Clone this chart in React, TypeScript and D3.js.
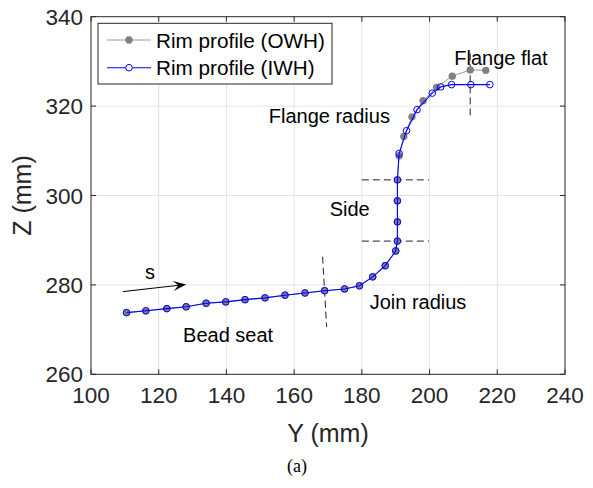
import { useEffect, useRef } from 'react';
import * as d3 from 'd3';

// Rim profile points, Y (mm) / Z (mm)
const owhY = [110.5, 116.2, 122.4, 128.1, 134.0, 139.8, 145.5, 151.4, 157.3, 163.2, 169.0, 174.9, 179.3, 183.2, 186.9, 190.0, 190.5, 190.5, 190.5, 190.5, 191.0, 192.4, 194.8, 198.1, 202.1, 206.7, 212.0, 216.6];
const owhZ = [273.8, 274.2, 274.7, 275.1, 275.9, 276.2, 276.7, 277.1, 277.7, 278.2, 278.7, 279.1, 279.8, 281.8, 284.3, 287.6, 289.8, 294.1, 298.8, 303.5, 308.9, 313.2, 317.6, 321.2, 324.2, 326.7, 328.1, 328.0];
const iwhY = [110.5, 116.2, 122.4, 128.1, 134.0, 139.8, 145.5, 151.4, 157.3, 163.2, 169.0, 174.9, 179.3, 183.2, 186.9, 190.0, 190.5, 190.5, 190.5, 190.5, 191.0, 193.2, 196.3, 200.8, 203.3, 206.5, 212.2, 217.8];
const iwhZ = [273.8, 274.2, 274.7, 275.1, 275.9, 276.2, 276.7, 277.1, 277.7, 278.2, 278.7, 279.1, 279.8, 281.8, 284.3, 287.6, 289.8, 294.1, 298.8, 303.5, 309.4, 314.5, 319.2, 322.9, 324.3, 324.8, 324.8, 324.8];

const xTicks = [100, 120, 140, 160, 180, 200, 220, 240];
const yTicks = [260, 280, 300, 320, 340];

const legendLabels = ['Rim profile (OWH)', 'Rim profile (IWH)'];

// section boundaries (dashed), as [Y1, Z1, Y2, Z2]
const dividers = [
  [168.4, 286.3, 169.6, 270.6],
  [180.0, 303.5, 199.8, 303.5],
  [180.0, 289.8, 199.8, 289.8],
  [212.0, 331.8, 212.0, 317.3],
];

const notes = [
  { text: 'Flange flat', y: 207.3, z: 329.2 },
  { text: 'Flange radius', y: 152.5, z: 316.3 },
  { text: 'Side', y: 170.5, z: 295.4 },
  { text: 'Join radius', y: 182.3, z: 274.6 },
  { text: 'Bead seat', y: 127.2, z: 267.2 },
];

const arrowFrom = [109.4, 278.5];
const arrowTo = [128.1, 280.1];

const App = () => {
  const svgRef = useRef<SVGSVGElement | null>(null);

  useEffect(() => {
    if (!svgRef.current) return;
    d3.select(svgRef.current).selectAll('*').remove();

    const width = 593;
    const height = 488;
    const left = 91, right = 565, top = 16.7, bottom = 374.3;
    const axisColor = '#262626';
    const font = 'Arial, "Liberation Sans", sans-serif';

    const svg = d3.select(svgRef.current)
      .attr('width', width)
      .attr('height', height);

    svg.append('rect').attr('width', width).attr('height', height).attr('fill', '#fff');

    const x = d3.scaleLinear().domain([100, 240]).range([left, right]);
    const y = d3.scaleLinear().domain([260, 340]).range([bottom, top]);

    // grid
    const grid = svg.append('g').attr('stroke', '#e3e3e3').attr('stroke-width', 1);
    xTicks.slice(1, -1).forEach((t) => {
      grid.append('line').attr('x1', x(t)).attr('x2', x(t)).attr('y1', top).attr('y2', bottom);
    });
    yTicks.slice(1, -1).forEach((t) => {
      grid.append('line').attr('x1', left).attr('x2', right).attr('y1', y(t)).attr('y2', y(t));
    });

    // dashed section lines
    dividers.forEach((d) => {
      svg.append('line')
        .attr('x1', x(d[0])).attr('y1', y(d[1]))
        .attr('x2', x(d[2])).attr('y2', y(d[3]))
        .attr('stroke', '#222')
        .attr('stroke-width', 1)
        .attr('stroke-dasharray', '7,4');
    });

    const owh = owhY.map((v, i) => [v, owhZ[i]] as [number, number]);
    const iwh = iwhY.map((v, i) => [v, iwhZ[i]] as [number, number]);
    const line = d3.line<[number, number]>().x((d) => x(d[0])).y((d) => y(d[1]));

    // OWH series
    svg.append('path')
      .attr('d', line(owh) as string)
      .attr('fill', 'none')
      .attr('stroke', '#9a9a9a')
      .attr('stroke-width', 1);
    svg.append('g').selectAll('circle').data(owh).enter().append('circle')
      .attr('cx', (d) => x(d[0]))
      .attr('cy', (d) => y(d[1]))
      .attr('r', 3.7)
      .attr('fill', '#808080');

    // IWH series
    svg.append('path')
      .attr('d', line(iwh) as string)
      .attr('fill', 'none')
      .attr('stroke', '#0000ff')
      .attr('stroke-width', 1.1);
    svg.append('g').selectAll('circle').data(iwh).enter().append('circle')
      .attr('cx', (d) => x(d[0]))
      .attr('cy', (d) => y(d[1]))
      .attr('r', 3.3)
      .attr('fill', 'none')
      .attr('stroke', '#0000ff')
      .attr('stroke-width', 1);

    // arrow "s"
    const ax1 = x(arrowFrom[0]), ay1 = y(arrowFrom[1]);
    const ax2 = x(arrowTo[0]), ay2 = y(arrowTo[1]);
    const ang = Math.atan2(ay2 - ay1, ax2 - ax1);
    svg.append('line')
      .attr('x1', ax1).attr('y1', ay1).attr('x2', ax2 - 4 * Math.cos(ang)).attr('y2', ay2 - 4 * Math.sin(ang))
      .attr('stroke', '#000').attr('stroke-width', 1);
    const hl = 13, hw = 5;
    const bx = ax2 - hl * Math.cos(ang), by = ay2 - hl * Math.sin(ang);
    const nx = -Math.sin(ang), ny = Math.cos(ang);
    const ix = ax2 - 0.6 * hl * Math.cos(ang), iy = ay2 - 0.6 * hl * Math.sin(ang);
    svg.append('path')
      .attr('d', `M${ax2},${ay2} L${bx + nx * hw},${by + ny * hw} L${ix},${iy} L${bx - nx * hw},${by - ny * hw} Z`)
      .attr('fill', '#000');
    svg.append('text')
      .attr('x', 145).attr('y', 279)
      .attr('font-family', font).attr('font-size', 20).attr('fill', '#000')
      .text('s');

    // annotations
    notes.forEach((n) => {
      svg.append('text')
        .attr('x', x(n.y)).attr('y', y(n.z))
        .attr('font-family', font).attr('font-size', 20).attr('fill', '#000')
        .text(n.text);
    });

    // axes box and ticks
    svg.append('rect')
      .attr('x', left).attr('y', top).attr('width', right - left).attr('height', bottom - top)
      .attr('fill', 'none').attr('stroke', axisColor).attr('stroke-width', 1);
    const tickLen = 5;
    xTicks.forEach((t) => {
      svg.append('line').attr('x1', x(t)).attr('x2', x(t)).attr('y1', bottom).attr('y2', bottom - tickLen).attr('stroke', axisColor);
      svg.append('line').attr('x1', x(t)).attr('x2', x(t)).attr('y1', top).attr('y2', top + tickLen).attr('stroke', axisColor);
      svg.append('text')
        .attr('x', x(t)).attr('y', bottom + 29)
        .attr('text-anchor', 'middle')
        .attr('font-family', font).attr('font-size', 22.5).attr('fill', axisColor)
        .text(t);
    });
    yTicks.forEach((t) => {
      svg.append('line').attr('x1', left).attr('x2', left + tickLen).attr('y1', y(t)).attr('y2', y(t)).attr('stroke', axisColor);
      svg.append('line').attr('x1', right).attr('x2', right - tickLen).attr('y1', y(t)).attr('y2', y(t)).attr('stroke', axisColor);
      svg.append('text')
        .attr('x', left - 8).attr('y', y(t) + 8)
        .attr('text-anchor', 'end')
        .attr('font-family', font).attr('font-size', 22.5).attr('fill', axisColor)
        .text(t);
    });

    // axis labels
    svg.append('text')
      .attr('x', (left + right) / 2).attr('y', 442)
      .attr('text-anchor', 'middle')
      .attr('font-family', font).attr('font-size', 25).attr('fill', axisColor)
      .text('Y (mm)');
    svg.append('text')
      .attr('transform', `translate(31,${(top + bottom) / 2}) rotate(-90)`)
      .attr('text-anchor', 'middle')
      .attr('font-family', font).attr('font-size', 25).attr('fill', axisColor)
      .text('Z (mm)');

    // legend
    const lg = svg.append('g');
    lg.append('rect')
      .attr('x', 98).attr('y', 23.3).attr('width', 234).attr('height', 60.7)
      .attr('fill', '#fff').attr('stroke', axisColor).attr('stroke-width', 1);
    const rows = [40, 67.7];
    lg.append('line').attr('x1', 107).attr('x2', 151).attr('y1', rows[0]).attr('y2', rows[0]).attr('stroke', '#9a9a9a').attr('stroke-width', 1);
    lg.append('circle').attr('cx', 129).attr('cy', rows[0]).attr('r', 3.7).attr('fill', '#808080');
    lg.append('line').attr('x1', 107).attr('x2', 151).attr('y1', rows[1]).attr('y2', rows[1]).attr('stroke', '#0000ff').attr('stroke-width', 1.1);
    lg.append('circle').attr('cx', 129).attr('cy', rows[1]).attr('r', 3.3).attr('fill', '#fff').attr('stroke', '#0000ff');
    legendLabels.forEach((l, i) => {
      lg.append('text')
        .attr('x', 156).attr('y', rows[i] + 7.5)
        .attr('font-family', font).attr('font-size', 20.7).attr('fill', '#000')
        .text(l);
    });

    // caption
    svg.append('text')
      .attr('x', 297).attr('y', 472)
      .attr('text-anchor', 'middle')
      .attr('font-family', '"Liberation Serif", "Times New Roman", serif').attr('font-size', 18).attr('fill', '#000')
      .text('(a)');
  }, []);

  return (
    <div style={{ position: 'absolute', left: 0, top: 0 }}>
      <svg ref={svgRef} style={{ display: 'block' }}></svg>
    </div>
  );
};

export default App;
